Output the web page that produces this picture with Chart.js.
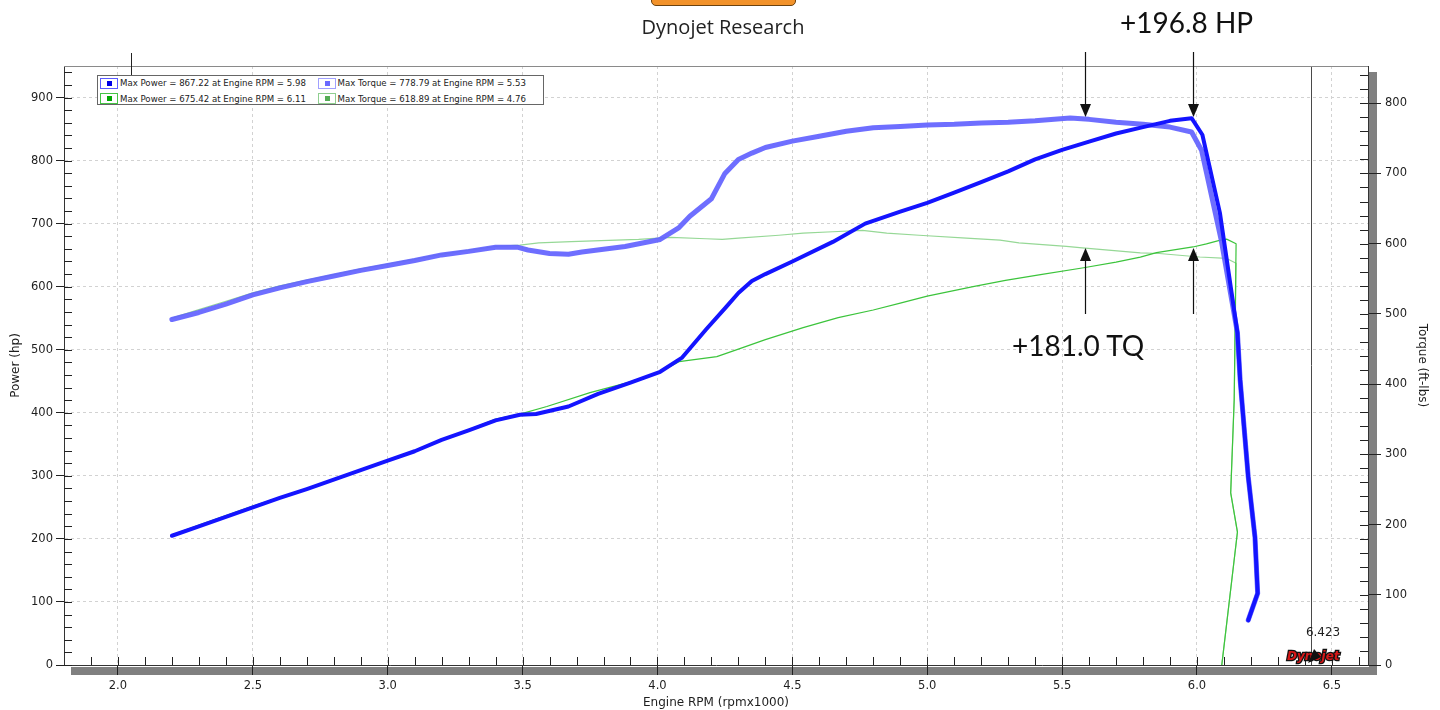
<!DOCTYPE html>
<html>
<head>
<meta charset="utf-8">
<script src="https://cdn.jsdelivr.net/npm/chart.js@4.4.0/dist/chart.umd.min.js"></script>
<style>
html,body{margin:0;padding:0;background:#fff;width:1440px;height:710px;overflow:hidden;}
#wrap{position:relative;width:1440px;height:710px;}
#c{position:absolute;left:0;top:0;}
.t{position:absolute;white-space:nowrap;color:#1a1a1a;}
#btn{position:absolute;left:651px;top:-12px;width:143px;height:16px;background:#f2922a;border:1px solid #6b4210;border-radius:5px;}
#title{left:0;width:1446px;text-align:center;top:15px;font:20px "Open Sans",sans-serif;line-height:24px;color:#222;}
.ann{font:28px Lato,sans-serif;line-height:30px;color:#111;}
#leg{position:absolute;left:97px;top:75px;width:445px;height:28px;border:1px solid #666;background:#fff;}
.sw{position:absolute;width:16px;height:9px;background:#fff;}
.sw i{position:absolute;left:6px;top:2px;width:5px;height:5px;}
.lt{position:absolute;font:8.6px "DejaVu Sans",sans-serif;line-height:10px;color:#222;white-space:nowrap;}
</style>
</head>
<body>
<div id="wrap">
<canvas id="c" width="1440" height="710"></canvas>
<div id="btn"></div>
<div class="t" id="title">Dynojet Research</div>
<div class="t ann" style="left:1120px;top:7px;">+196.8 HP</div>
<div class="t ann" style="left:1012px;top:330px;">+181.0 TQ</div>
<div id="leg"></div>
</div>
<script>
// ---- data ----
const bluePowerRpm = [2.20,2.30,2.40,2.50,2.60,2.70,2.80,2.90,3.00,3.10,3.20,3.30,3.40,3.49,3.55,3.67,3.78,3.90,4.01,4.09,4.18,4.255,4.30,4.35,4.40,4.50,4.65,4.77,4.90,5.00,5.10,5.20,5.30,5.40,5.50,5.60,5.70,5.80,5.90,5.98,6.02,6.085,6.15,6.16,6.19,6.215,6.225,6.19];
const bluePowerHp  = [205,220,235,250,265,279,294,309,324,339,357,372,388,397,398,410,430,448,465,487,532,568,590,609,620,640,671,700,719,733,749,766,783,802,817,830,843,853,863,867.22,841,717,527,452,298,203,114,71];

const blueTorqueRpm = [2.20,2.30,2.40,2.50,2.60,2.70,2.80,2.90,3.00,3.10,3.20,3.30,3.40,3.48,3.52,3.60,3.67,3.72,3.88,4.01,4.08,4.12,4.20,4.25,4.30,4.35,4.40,4.50,4.60,4.70,4.80,4.90,5.00,5.10,5.20,5.30,5.40,5.53,5.60,5.70,5.80,5.90,5.98,6.017,6.09,6.15,6.16,6.19,6.215,6.225,6.19];
const blueTorqueTq  = [492,502,514,527,537,546,554,562,569,576,584,589,595,595,591,586,585,588,596,606,623,639,664,700,720,729,737,746,753,760,765,767,769,770,772,773,775,778.79,777,773,770,766,759,733,605,473,406,268,182,102,64];

const greenPowerRpm = [2.20,2.30,2.40,2.50,2.60,2.70,2.80,2.90,3.00,3.10,3.20,3.30,3.40,3.49,3.59,3.75,3.90,4.01,4.08,4.22,4.30,4.40,4.54,4.67,4.80,4.90,5.00,5.17,5.29,5.42,5.58,5.70,5.79,5.85,5.985,6.035,6.08,6.11,6.145,6.138,6.125,6.15,6.092];
const greenPowerHp  = [206,222,237,252,266,280,295,310,325,340,358,373,390,398,410,432,449,465,481,489,501,516,535,551,563,574,585,600,610,619,630,639,647,654,663,668,673,675.42,668,421,273,211,0];

const greenTorqueRpm = [2.20,2.30,2.40,2.50,2.60,2.70,2.80,2.90,3.00,3.10,3.20,3.30,3.40,3.49,3.56,3.68,3.93,4.05,4.18,4.24,4.30,4.45,4.54,4.65,4.76,4.85,4.97,5.145,5.27,5.34,5.516,5.575,5.79,5.86,6.01,6.11,6.145,6.138,6.125,6.15,6.092];
const greenTorqueTq  = [494,506,518,530,540,548,556,564,571,578,585,591,596,598,601,603,606,609,607,606,608,612,615,617,618.89,615,612,608,605,601,596,594,587,586,581,579,572,377,245,189,0];

const rpmTicks = [2.0,2.5,3.0,3.5,4.0,4.5,5.0,5.5,6.0,6.5];
const hpTicks  = [0,100,200,300,400,500,600,700,800,900];
const tqTicks  = [0,100,200,300,400,500,600,700,800];

const legendLabels = [
  'Max Power = 867.22 at Engine RPM = 5.98',
  'Max Torque = 778.79 at Engine RPM = 5.53',
  'Max Power = 675.42 at Engine RPM = 6.11',
  'Max Torque = 618.89 at Engine RPM = 4.76'
];
const markerRpm = 6.423;
const markerLabel = '6.423';
const cursorRpm = 2.048;
const arrowRpms = [5.585, 5.985];

// ---- styles ----
const lineColors = ['#1414ff','rgba(98,98,255,0.92)','#3cc43c','#96d896'];
const swatchBorder = ['#5a5aff','#a0a0ff','#44c444','#8fcf8f'];
const swatchFill = ['#0000e6','#6a6aff','#00a800','#55ad55'];

// legend (HTML text)
const leg = document.getElementById('leg');
legendLabels.forEach((txt, i) => {
  const col = i % 2, row = Math.floor(i / 2);
  const sw = document.createElement('div');
  sw.className = 'sw';
  sw.style.left = (2 + col * 218) + 'px';
  sw.style.top = (2 + row * 15) + 'px';
  sw.style.border = '1px solid ' + swatchBorder[i];
  const inner = document.createElement('i');
  inner.style.background = swatchFill[i];
  sw.appendChild(inner);
  leg.appendChild(sw);
  const t = document.createElement('div');
  t.className = 'lt';
  t.style.left = (22 + col * 217.5) + 'px';
  t.style.top = (2 + row * 15.5) + 'px';
  t.textContent = txt;
  leg.appendChild(t);
});

const pts = (xs, ys) => xs.map((x, i) => ({x: x, y: ys[i]}));
const tickFont = {family: 'DejaVu Sans', size: 11.5};
const titleFont = {family: 'DejaVu Sans', size: 12};
const txtColor = '#1e1e1e';

const decor = {
  id: 'decor',
  beforeDraw(chart) {
    const ctx = chart.ctx, a = chart.chartArea;
    ctx.save();
    ctx.fillStyle = '#808080';
    ctx.fillRect(a.left + 7, a.bottom + 2, a.right - a.left + 1, 8);
    ctx.fillRect(a.right + 1, a.top + 6, 8, a.bottom - a.top + 4);
    ctx.restore();
  },
  beforeDatasetsDraw(chart) {
    const ctx = chart.ctx, a = chart.chartArea, xs = chart.scales.x;
    ctx.save();
    const mx = Math.round(xs.getPixelForValue(markerRpm)) + 0.5;
    ctx.strokeStyle = '#4a4a4a';
    ctx.lineWidth = 1;
    ctx.beginPath(); ctx.moveTo(mx, a.top); ctx.lineTo(mx, a.bottom); ctx.stroke();
    ctx.restore();
  },
  afterDraw(chart) {
    const ctx = chart.ctx, a = chart.chartArea;
    const xs = chart.scales.x, yl = chart.scales.yL, yr = chart.scales.yR;
    ctx.save();
    ctx.strokeStyle = '#222';
    ctx.lineWidth = 1;
    ctx.beginPath();
    for (let k = 19; k <= 66; k++) {
      const x = Math.round(xs.getPixelForValue(k / 10)) + 0.5;
      ctx.moveTo(x, a.bottom); ctx.lineTo(x, a.bottom - 8);
    }
    for (let v = 0; v <= yl.max; v += 20) {
      const y = Math.round(yl.getPixelForValue(v)) + 0.5;
      ctx.moveTo(a.left, y); ctx.lineTo(a.left + 8, y);
    }
    for (let v = 0; v <= yr.max; v += 20) {
      const y = Math.round(yr.getPixelForValue(v)) + 0.5;
      ctx.moveTo(a.right, y); ctx.lineTo(a.right - 8, y);
    }
    ctx.stroke();
    // top border
    ctx.strokeStyle = '#8a8a8a';
    ctx.beginPath(); ctx.moveTo(a.left, a.top + 0.5); ctx.lineTo(a.right, a.top + 0.5); ctx.stroke();
    // cursor tick above legend
    const cx = Math.round(xs.getPixelForValue(cursorRpm)) + 0.5;
    ctx.strokeStyle = '#222';
    ctx.beginPath(); ctx.moveTo(cx, a.top - 13); ctx.lineTo(cx, a.top + 10); ctx.stroke();
    // marker label
    ctx.fillStyle = txtColor;
    ctx.font = '12px "DejaVu Sans"';
    ctx.textAlign = 'center'; ctx.textBaseline = 'middle';
    ctx.fillText(markerLabel, xs.getPixelForValue(markerRpm) + 12, a.bottom - 32);
    // logo
    ctx.font = 'italic bold 12px "DejaVu Sans"';
    ctx.textAlign = 'left'; ctx.textBaseline = 'alphabetic';
    ctx.lineWidth = 2.5; ctx.strokeStyle = '#111';
    ctx.strokeText('Dynojet', a.right - 81, a.bottom - 5);
    ctx.fillStyle = '#d61818';
    ctx.fillText('Dynojet', a.right - 81, a.bottom - 5);
    ctx.fillStyle = '#111';
    ctx.beginPath();
    const lx = xs.getPixelForValue(markerRpm);
    ctx.moveTo(lx - 3, a.bottom - 2); ctx.lineTo(lx + 3, a.bottom - 16); ctx.lineTo(lx + 10, a.bottom - 8); ctx.closePath(); ctx.fill();
    // arrows
    ctx.strokeStyle = '#111'; ctx.fillStyle = '#111'; ctx.lineWidth = 1.2;
    arrowRpms.forEach(r => {
      const x = Math.round(xs.getPixelForValue(r)) + 0.5;
      ctx.beginPath(); ctx.moveTo(x, 52); ctx.lineTo(x, 106); ctx.stroke();
      ctx.beginPath(); ctx.moveTo(x, 117); ctx.lineTo(x - 5.5, 104); ctx.lineTo(x + 5.5, 104); ctx.closePath(); ctx.fill();
      ctx.beginPath(); ctx.moveTo(x, 314); ctx.lineTo(x, 258); ctx.stroke();
      ctx.beginPath(); ctx.moveTo(x, 248); ctx.lineTo(x - 5.5, 261); ctx.lineTo(x + 5.5, 261); ctx.closePath(); ctx.fill();
    });
    ctx.restore();
  }
};

const ds = (label, data, axis, color, w) => ({
  label, data, yAxisID: axis, borderColor: color, borderWidth: w,
  pointRadius: 0, tension: 0, fill: false, borderJoinStyle: 'round', borderCapStyle: 'round'
});

new Chart(document.getElementById('c'), {
  type: 'line',
  data: {
    datasets: [
      ds('Power', pts(bluePowerRpm, bluePowerHp), 'yL', lineColors[0], 4),
      ds('Torque', pts(blueTorqueRpm, blueTorqueTq), 'yR', lineColors[1], 5),
      ds('Power 2', pts(greenPowerRpm, greenPowerHp), 'yL', lineColors[2], 1.2),
      ds('Torque 2', pts(greenTorqueRpm, greenTorqueTq), 'yR', lineColors[3], 1.2)
    ]
  },
  options: {
    responsive: false,
    animation: false,
    layout: {padding: {top: 66, left: 0, right: 0, bottom: 0}},
    plugins: {legend: {display: false}, tooltip: {enabled: false}, title: {display: false}},
    scales: {
      x: {
        type: 'linear', position: 'bottom', min: 1.8, max: 6.634,
        afterBuildTicks: s => { s.ticks = rpmTicks.map(v => ({value: v})); },
        afterFit: s => { s.height = 45; },
        ticks: {callback: v => Number(v).toFixed(1), autoSkip: false, maxRotation: 0, font: tickFont, color: txtColor, padding: 4},
        grid: {color: '#d2d2d2', lineWidth: 1, drawTicks: true, tickLength: 10, tickColor: '#222', tickBorderDash: []},
        border: {display: true, color: '#333', dash: [3, 3]},
        title: {display: true, text: 'Engine RPM (rpmx1000)', font: titleFont, color: txtColor, padding: {top: 0, bottom: 0}}
      },
      yL: {
        type: 'linear', position: 'left', min: 0, max: 950,
        afterBuildTicks: s => { s.ticks = hpTicks.map(v => ({value: v})); },
        afterFit: s => { s.width = 64; },
        ticks: {callback: v => String(v), autoSkip: false, font: tickFont, color: txtColor, padding: 3},
        grid: {color: '#d2d2d2', lineWidth: 1, drawTicks: true, tickLength: 8, tickColor: '#222', tickBorderDash: []},
        border: {display: true, color: '#333', dash: [3, 3]},
        title: {display: true, text: 'Power (hp)', font: titleFont, color: txtColor, padding: {top: 9, bottom: 0}}
      },
      yR: {
        type: 'linear', position: 'right', min: 0, max: 853,
        afterBuildTicks: s => { s.ticks = tqTicks.map(v => ({value: v})); },
        afterFit: s => { s.width = 72; },
        ticks: {callback: v => String(v), autoSkip: false, font: tickFont, color: txtColor, padding: 4},
        grid: {drawOnChartArea: false, drawTicks: true, tickLength: 13, tickColor: '#222', tickBorderDash: []},
        border: {display: true, color: '#333'},
        title: {display: true, text: 'Torque (ft-lbs)', font: titleFont, color: txtColor, padding: {top: 11, bottom: 0}}
      }
    }
  },
  plugins: [decor]
});
</script>
</body>
</html>
